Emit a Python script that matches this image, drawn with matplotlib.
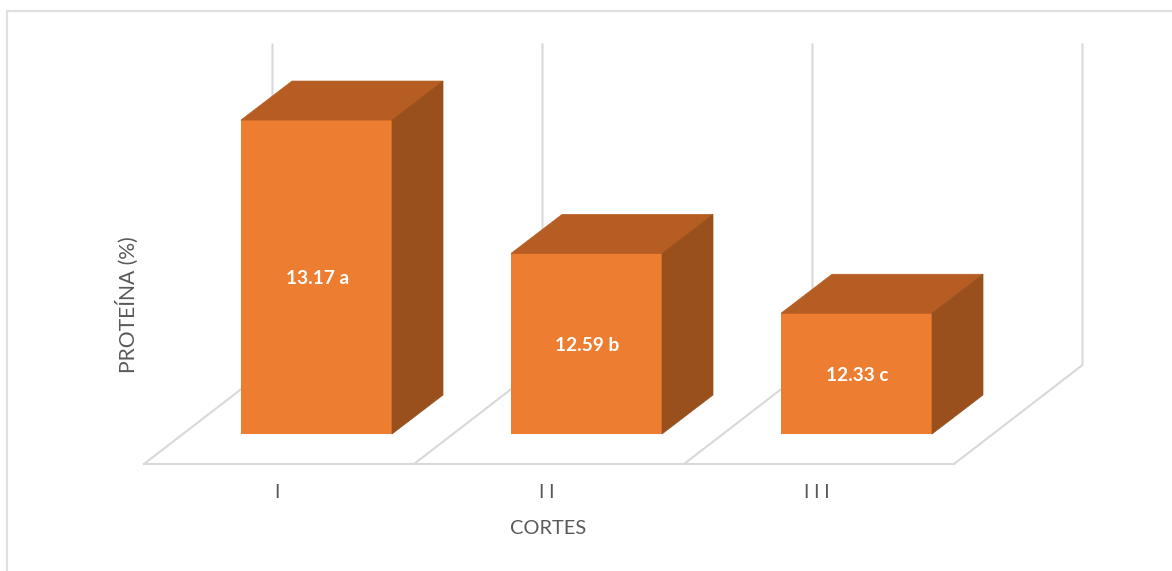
import matplotlib
matplotlib.use("Agg")
import matplotlib.pyplot as plt

plt.rcParams["font.family"] = ["Lato", "DejaVu Sans"]

categories = ["I", "II", "III"]
tick_labels = ["I", "I I", "I I I"]
proteina = [13.17, 12.59, 12.33]
letras = ["a", "b", "c"]

# scale of the picture: one category = 270 px, one % = 230 px
PX_X = 1 / 270
PX_Y = 1 / 230
BASE = 11.805
BAR_W = 151 * PX_X
DX = 51 * PX_X
DY = 39 * PX_Y
GRID = "#D9D9D9"
TEXT = "#595959"

fig = plt.figure(figsize=(11.72, 5.71), dpi=100)
ax = fig.add_axes([0, 0, 1, 1])
ax.set_xlim(-316.5 * PX_X, (1172 - 316.5) * PX_X)
ax.set_ylim(BASE - 137 * PX_Y, BASE + 434 * PX_Y)
ax.axis("off")

# outer chart frame (left and top edges only show)
frame_x = -316.5 * PX_X + 7 * PX_X
frame_y = BASE + (434 - 11) * PX_Y
ax.plot([frame_x, frame_x, ax.get_xlim()[1]], [ax.get_ylim()[0], frame_y, frame_y],
        color="#E0E0E0", lw=1.6, zorder=1)

# floor and back wall grid
floor_front = BASE - 30 * PX_Y
floor_back = BASE + 69 * PX_Y
wall_top = BASE + 389.5 * PX_Y
floor_dx = 128.5 * PX_X
for i in range(len(categories) + 1):
    x0 = i - 172.5 * PX_X
    ax.plot([x0, x0 + floor_dx, x0 + floor_dx], [floor_front, floor_back, wall_top],
            color=GRID, lw=1.5, zorder=1)
ax.plot([-172.5 * PX_X, len(categories) - 172.5 * PX_X], [floor_front, floor_front],
        color=GRID, lw=1.5, zorder=1)

# bars: front with the library, depth faces from the same values
xs = range(len(categories))
ax.bar(xs, [v - BASE for v in proteina], bottom=BASE, width=BAR_W, color="#ED7D31", zorder=3)
for x, v, letra in zip(xs, proteina, letras):
    l, r = x - BAR_W / 2, x + BAR_W / 2
    ax.fill([l, r, r + DX, l + DX], [v, v, v + DY, v + DY], color="#B55D22", lw=0.5, zorder=3)
    ax.fill([r, r + DX, r + DX, r], [BASE, BASE + DY, v + DY, v], color="#99501C", lw=0.5, zorder=3)
    ax.text(x + 1 * PX_X, (v + BASE) / 2 - 1.5 * PX_Y, f"{v:.2f} {letra}", color="white",
            fontsize=13.7, fontweight="bold", ha="center", va="center", zorder=4)

# tick labels and axis titles
for x, lab in zip(xs, tick_labels):
    ax.text(x - 40 * PX_X, BASE - 58 * PX_Y, lab, color=TEXT, fontsize=13.5,
            ha="center", va="center")
ax.text(232 * PX_X, BASE - 94.5 * PX_Y, "CORTES", color=TEXT, fontsize=14.4,
        ha="center", va="center")
ax.text(-189.5 * PX_X, BASE + 129 * PX_Y, "PROTEÍNA (%)", color=TEXT, fontsize=15.2,
        rotation=90, ha="center", va="center")

fig.savefig("out.png", dpi=100)
plt.close(fig)
